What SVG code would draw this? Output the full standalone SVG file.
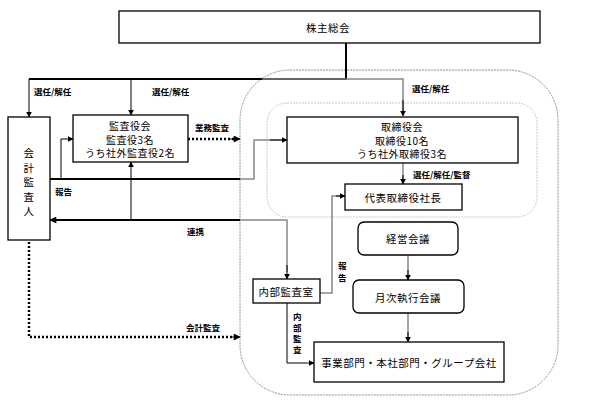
<svg xmlns="http://www.w3.org/2000/svg" width="596" height="406" viewBox="0 0 596 406">
<defs>
<marker id="ah" viewBox="0 0 10 10" refX="9" refY="5" markerWidth="6" markerHeight="6" markerUnits="userSpaceOnUse" orient="auto"><path d="M0,0 L10,5 L0,10 z" fill="#000"/></marker>
<marker id="ahb" viewBox="0 0 10 10" refX="9" refY="5" markerWidth="8" markerHeight="7" markerUnits="userSpaceOnUse" orient="auto"><path d="M0,0 L10,5 L0,10 z" fill="#000"/></marker>
</defs>
<style>
text{font-family:"Noto Sans CJK JP","Noto Sans CJK SC",sans-serif;fill:#000}
.n{font-size:10.5px;text-anchor:middle;dominant-baseline:central;letter-spacing:0.5px}
.m{font-size:10px;text-anchor:middle;dominant-baseline:central;letter-spacing:0.5px}
.l{font-size:8.5px;font-weight:bold;dominant-baseline:central}
.box{fill:#fff;stroke:#000;stroke-width:1.3}
.k{fill:none;stroke:#000;stroke-width:2}
.t{fill:none;stroke:#000;stroke-width:1}
.g{fill:none;stroke:#888;stroke-width:1.5}
.d{fill:none;stroke:#000;stroke-width:2.5;stroke-dasharray:2,2}
</style>
<rect width="596" height="406" fill="#fff"/>
<g id="group-outer"><rect x="240" y="70" width="318" height="325" rx="50" ry="50" fill="none" stroke="#777" stroke-width="0.8" stroke-dasharray="2,1"/></g>
<g id="group-inner"><rect x="267" y="103" width="270" height="114" rx="20" ry="20" fill="none" stroke="#bbb" stroke-width="0.8" stroke-dasharray="2,1"/></g>
<g id="connectors">
<path class="k" d="M346,43 V79 H262"/>
<path class="k" d="M262,79 H29"/>
<path class="g" d="M262,79 H403 V113"/>
<path class="t" d="M403,100 V116" marker-end="url(#ah)"/>
<path class="t" d="M29,79 V117" marker-end="url(#ah)"/>
<path class="t" d="M131,79 V115" marker-end="url(#ah)"/>
<path class="k" d="M50,179 H240"/>
<path class="t" d="M61,179 V139 H73" marker-end="url(#ah)"/>
<path class="g" d="M240,179 H254 V140 H283"/>
<path class="t" d="M270,140 H287" marker-end="url(#ah)"/>
<path class="k" d="M240,220 H52"/>
<path class="t" d="M60,220 H50" marker-end="url(#ahb)"/>
<path class="t" d="M131,220 V162" marker-end="url(#ah)"/>
<path class="g" d="M240,220 H287 V272"/>
<path class="t" d="M287,265 V279" marker-end="url(#ah)"/>
<path class="g" d="M403,163 V180"/>
<path class="t" d="M403,175 V184" marker-end="url(#ah)"/>
<path class="g" d="M320,293 H332 V196 H340"/>
<path class="t" d="M336,196 H345" marker-end="url(#ah)"/>
<path class="g" d="M408,255 V276"/>
<path class="t" d="M408,270 V280" marker-end="url(#ah)"/>
<path class="g" d="M408,313 V338"/>
<path class="t" d="M408,332 V342" marker-end="url(#ah)"/>
<path class="t" d="M287,303 V363 H314" marker-end="url(#ah)"/>
<path class="d" d="M188,139 H234"/>
<path class="t" d="M230,139 H240" marker-end="url(#ahb)"/>
<path class="d" d="M29,242 V337 H234"/>
<path class="t" d="M230,337 H240" marker-end="url(#ahb)"/>
<text class="l" x="34" y="91">選任/解任</text>
<text class="l" x="152" y="91">選任/解任</text>
<text class="l" x="412" y="88">選任/解任</text>
<text class="l" x="195" y="127">業務監査</text>
<text class="l" x="55" y="191">報告</text>
<text class="l" x="187" y="231">連携</text>
<text class="l" x="413" y="174">選任/解任/監督</text>
<text class="l" x="186" y="327">会計監査</text>
<text class="l" x="338" y="265">報</text>
<text class="l" x="338" y="277">告</text>
<text class="l" x="293" y="316">内</text>
<text class="l" x="293" y="327">部</text>
<text class="l" x="293" y="338">監</text>
<text class="l" x="293" y="349">査</text>
</g>
<g id="node-shareholders"><rect class="box" x="119" y="11" width="421" height="32"/><text class="n" x="328" y="27">株主総会</text></g>
<g id="node-auditor"><rect class="box" x="8" y="117" width="42" height="123"/>
<text class="n" x="29" y="152">会</text><text class="n" x="29" y="167">計</text><text class="n" x="29" y="181">監</text><text class="n" x="29" y="196">査</text><text class="n" x="29" y="210">人</text></g>
<g id="node-kansayakukai"><rect class="box" x="73" y="115" width="115" height="47"/>
<text class="m" x="130" y="125.5">監査役会</text><text class="m" x="130" y="139">監査役3名</text><text class="m" x="130" y="152.5">うち社外監査役2名</text></g>
<g id="node-board"><rect class="box" x="287" y="117" width="231" height="46"/>
<text class="m" x="402" y="126.5">取締役会</text><text class="m" x="402" y="140">取締役10名</text><text class="m" x="402" y="153.5">うち社外取締役3名</text></g>
<g id="node-president"><rect class="box" x="345" y="184" width="117" height="26"/><text class="n" x="403" y="197">代表取締役社長</text></g>
<g id="node-keiei"><rect class="box" x="358" y="222" width="100" height="33" rx="6"/><text class="n" x="408" y="238">経営会議</text></g>
<g id="node-getsuji"><rect class="box" x="353" y="280" width="111" height="33" rx="6"/><text class="n" x="408" y="297">月次執行会議</text></g>
<g id="node-internal"><rect class="box" x="253" y="279" width="67" height="24"/><text class="n" x="286" y="291">内部監査室</text></g>
<g id="node-business"><rect class="box" x="314" y="342" width="190" height="40"/><text class="n" x="409" y="362">事業部門・本社部門・グループ会社</text></g>
</svg>
